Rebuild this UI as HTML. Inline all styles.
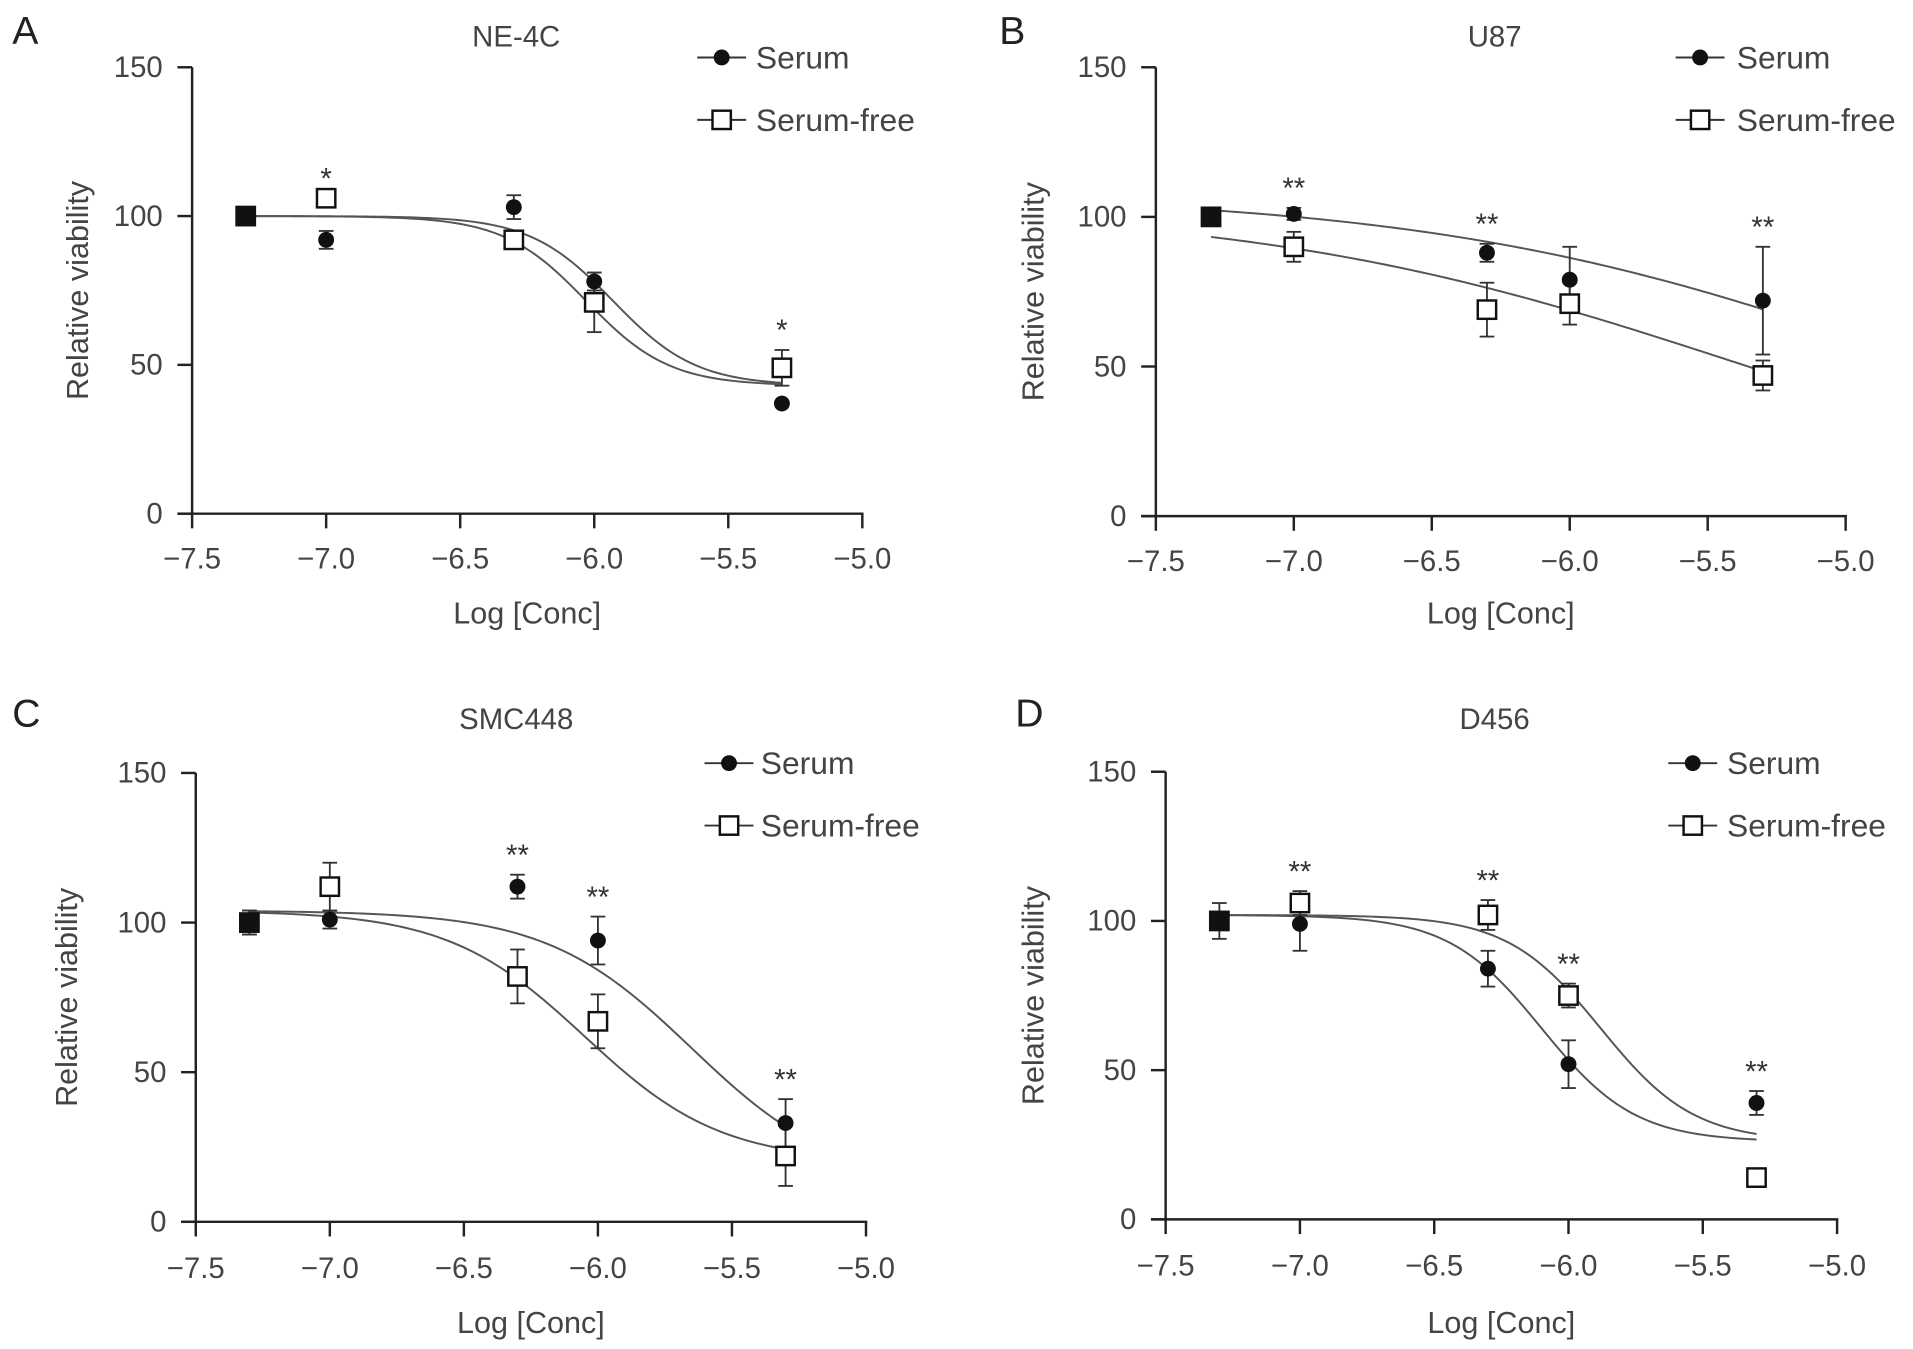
<!DOCTYPE html>
<html><head><meta charset="utf-8">
<style>
html,body{margin:0;padding:0;background:#fff;}
svg{display:block;font-family:"Liberation Sans",Arial,sans-serif;}
</style></head>
<body>
<svg id="fig" width="1913" height="1349" viewBox="0 0 1564 1103" xmlns="http://www.w3.org/2000/svg"></svg>
<script>
const xValues = [-7.3, -7.0, -6.3, -6.0, -5.3];
const xTicks = [-7.5, -7.0, -6.5, -6.0, -5.5, -5.0];
const xTickLabels = ["\u22127.5","\u22127.0","\u22126.5","\u22126.0","\u22125.5","\u22125.0"];
const yTicks = [0, 50, 100, 150];

const serumA = [100, 92, 103, 78, 37];
const serumErrA = [2, 3, 4, 3, 0];
const freeA = [100, 106, 92, 71, 49];
const freeErrA = [2, 0, 3, 10, 6];
const starsA = ["", "*", "", "", "*"];

const serumB = [100, 101, 88, 79, 72];
const serumErrB = [2, 2, 3, 11, 18];
const freeB = [100, 90, 69, 71, 47];
const freeErrB = [2, 5, 9, 7, 5];
const starsB = ["", "**", "**", "", "**"];

const serumC = [100, 101, 112, 94, 33];
const serumErrC = [4, 3, 4, 8, 8];
const freeC = [100, 112, 82, 67, 22];
const freeErrC = [4, 8, 9, 9, 10];
const starsC = ["", "", "**", "**", "**"];

const serumD = [100, 99, 84, 52, 39];
const serumErrD = [6, 9, 6, 8, 4];
const freeD = [100, 106, 102, 75, 14];
const freeErrD = [3, 4, 5, 4, 2];
const starsD = ["", "**", "**", "**", "**"];

// fit params: [top, bottom, logIC50, hill]
const fitSerumA = [100, 43, -5.93, 2.8];
const fitFreeA = [100, 43, -6.03, 2.8];
const fitSerumB = [108, 0, -4.8, 0.5];
const fitFreeB = [104, 0, -5.42, 0.5];
const fitSerumC = [104, 12, -5.65, 1.6];
const fitFreeC = [104, 20, -6.05, 1.7];
const fitSerumD = [102, 26, -6.1, 2.5];
const fitFreeD = [102, 26, -5.88, 2.5];

const NS = "http://www.w3.org/2000/svg";
const svg = document.getElementById("fig");
function mk(tag, attrs, parent, text){
  const e = document.createElementNS(NS, tag);
  for (const k in attrs) e.setAttribute(k, attrs[k]);
  if (text !== undefined) e.textContent = text;
  (parent || svg).appendChild(e);
  return e;
}
function fourPL(p, x){ return p[1] + (p[0]-p[1])/(1+Math.pow(10,(x-p[2])*p[3])); }

const panels = [
  {id:"a", letter:"A", lx:10, ly:36, title:"NE-4C", tx:422, ty:38, x0:157, x1:705, yTop:55, yBot:420, lgx:590, lgy:47, textX:618, ylx:72, xly:510, tky:465,
   s:serumA, se:serumErrA, f:freeA, fe:freeErrA, st:starsA, fs:fitSerumA, ff:fitFreeA},
  {id:"b", letter:"B", lx:817, ly:36, title:"U87", tx:1222, ty:38, x0:945, x1:1509, yTop:55, yBot:422, lgx:1390, lgy:47, textX:1420, ylx:853, xly:510, tky:467,
   s:serumB, se:serumErrB, f:freeB, fe:freeErrB, st:starsB, fs:fitSerumB, ff:fitFreeB},
  {id:"c", letter:"C", lx:10, ly:594, title:"SMC448", tx:422, ty:596, x0:160, x1:708, yTop:632, yBot:999, lgx:596, lgy:624, textX:622, ylx:63, xly:1090, tky:1045,
   s:serumC, se:serumErrC, f:freeC, fe:freeErrC, st:starsC, fs:fitSerumC, ff:fitFreeC},
  {id:"d", letter:"D", lx:830, ly:594, title:"D456", tx:1222, ty:596, x0:953, x1:1502, yTop:631, yBot:997, lgx:1384, lgy:624, textX:1412, ylx:853, xly:1090, tky:1043,
   s:serumD, se:serumErrD, f:freeD, fe:freeErrD, st:starsD, fs:fitSerumD, ff:fitFreeD}
];

panels.forEach(P=>{
  const g = mk("g", {});
  
  
  const X = v => P.x0 + (v - (-7.5)) / 2.5 * (P.x1 - P.x0);
  const Y = v => P.yBot - v / 150 * (P.yBot - P.yTop);

  const L = mk("text", {x:P.lx, y:P.ly, "font-size":32, fill:"#222"}, g, P.letter);
  
  
  const T = mk("text", {x:P.tx, y:P.ty, "font-size":24, fill:"#444", "text-anchor":"middle"}, g, P.title);
  
  

  const ax = mk("g", {stroke:"#222", "stroke-width":2, fill:"none"}, g);
  
  
  mk("line", {x1:P.x0, y1:Y(150), x2:P.x0, y2:Y(0)+1}, ax);
  mk("line", {x1:P.x0-12, y1:Y(0), x2:P.x1+1, y2:Y(0)}, ax);
  yTicks.forEach(v=>{
    mk("line", {x1:P.x0-12, y1:Y(v), x2:P.x0, y2:Y(v)}, ax);
    const t = mk("text", {x:P.x0-24, y:Y(v)+8, "font-size":24, fill:"#444", "text-anchor":"end"}, g, String(v));
    
    
  });
  xTicks.forEach((v,i)=>{
    mk("line", {x1:X(v), y1:Y(0), x2:X(v), y2:Y(0)+12}, ax);
    const t = mk("text", {x:X(v), y:P.tky, "font-size":24, fill:"#444", "text-anchor":"middle"}, g, xTickLabels[i]);
    
    
  });
  const yl = mk("text", {x:P.ylx, y:(P.yTop+P.yBot)/2, "font-size":25, fill:"#444", "text-anchor":"middle", transform:`rotate(-90 ${P.ylx} ${(P.yTop+P.yBot)/2})`}, g, "Relative viability");
  
  
  const xl = mk("text", {x:(P.x0+P.x1)/2, y:P.xly, "font-size":25, fill:"#444", "text-anchor":"middle"}, g, "Log [Conc]");
  
  

  [[P.fs,"serum"],[P.ff,"serum-free"]].forEach(([p,n])=>{
    let d = "";
    for (let i=0;i<=100;i++){
      const xv = -7.3 + 2.0*i/100;
      d += (i?"L":"M") + X(xv).toFixed(2) + "," + Y(fourPL(p,xv)).toFixed(2);
    }
    const c = mk("path", {d:d, stroke:"#555", "stroke-width":1.6, fill:"none"}, g);
    
    
  });

  function errs(vals, es, name){
    vals.forEach((v,i)=>{
      if (!es[i]) return;
      const eg = mk("g", {stroke:"#333", "stroke-width":1.5}, g);
      
      
      const x = X(xValues[i]);
      mk("line", {x1:x, y1:Y(v-es[i]), x2:x, y2:Y(v+es[i])}, eg);
      mk("line", {x1:x-6, y1:Y(v-es[i]), x2:x+6, y2:Y(v-es[i])}, eg);
      mk("line", {x1:x-6, y1:Y(v+es[i]), x2:x+6, y2:Y(v+es[i])}, eg);
    });
  }
  errs(P.s, P.se, "serum");
  errs(P.f, P.fe, "serum-free");

  P.f.forEach((v,i)=>{
    const r = mk("rect", {x:X(xValues[i])-7.5, y:Y(v)-7.5, width:15, height:15, fill: i===0?"#111":"#fff", stroke:"#111", "stroke-width":2}, g);
    
    
  });
  P.s.forEach((v,i)=>{
    const c = mk("circle", {cx:X(xValues[i]), cy:Y(v), r:6.5, fill:"#111"}, g);
    
    
  });

  P.st.forEach((s,i)=>{
    if (!s) return;
    const top = Math.max(P.s[i]+P.se[i], P.f[i]+P.fe[i]);
    const t = mk("text", {x:X(xValues[i]), y:Y(top)-8, "font-size":24, fill:"#333", "text-anchor":"middle"}, g, s);
    
    
  });

  const lg = mk("g", {}, g);
  
  
  const e1 = mk("g", {}, lg);
  
  
  mk("line", {x1:P.lgx-20, y1:P.lgy, x2:P.lgx+20, y2:P.lgy, stroke:"#333", "stroke-width":1.6}, e1);
  mk("circle", {cx:P.lgx, cy:P.lgy, r:6.5, fill:"#111"}, e1);
  mk("text", {x:P.textX, y:P.lgy+9, "font-size":26, fill:"#444"}, e1, "Serum");
  const e2 = mk("g", {}, lg);
  
  
  const ly2 = P.lgy + 51;
  mk("line", {x1:P.lgx-20, y1:ly2, x2:P.lgx+20, y2:ly2, stroke:"#333", "stroke-width":1.6}, e2);
  mk("rect", {x:P.lgx-7.5, y:ly2-7.5, width:15, height:15, fill:"#fff", stroke:"#111", "stroke-width":2}, e2);
  mk("text", {x:P.textX, y:ly2+9, "font-size":26, fill:"#444"}, e2, "Serum-free");
});
</script>
</body></html>
